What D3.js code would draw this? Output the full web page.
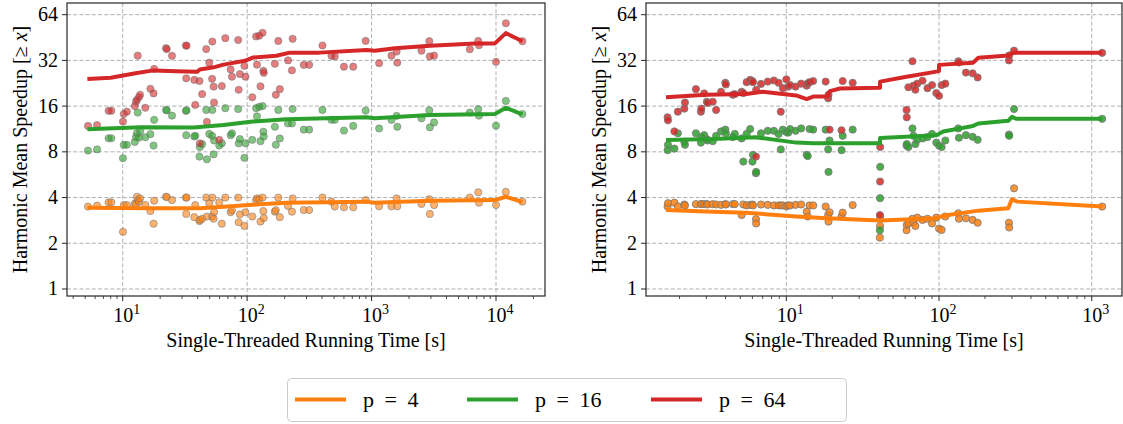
<!DOCTYPE html>
<html>
<head>
<meta charset="utf-8">
<title>Harmonic Mean Speedup</title>
<script src="https://cdn.jsdelivr.net/npm/d3@7"></script>
<style>
  body { margin: 0; background: #fff; }
</style>
</head>
<body>
<svg id="chart" width="1123" height="424" font-family="'Liberation Serif', 'Times New Roman', 'DejaVu Serif', serif"></svg>
<script>
// ---- data ----
const pLabels = ["p = 4", "p = 16", "p = 64"];
const pColors = ["#ff7f0e", "#2ca02c", "#d62728"];
const yTicks = [1, 2, 4, 8, 16, 32, 64];
const leftXTicks = [10, 100, 1000, 10000];
const rightXTicks = [10, 100, 1000];

// left panel, one row per instance: [time, p=4, p=16, p=64]
const leftPoints = [
  [5.26,3.49,8.15,11.85],[6.22,3.54,8.3,12.0],[7.7,3.72,9.83,14.9],[8.1,3.72,9.83,14.9],
  [10.05,2.38,7.26,12.65],[10.2,3.57,8.88,14.2],[10.8,3.57,8.9,14.7],[12.5,3.65,9.3,16.0],
  [12.8,3.62,10.0,17.1],[13.0,4.05,10.6,17.6],[13.2,3.85,14.5,34.4],[13.5,3.75,9.9,18.3],
  [13.8,3.95,10.9,19.0],[15.2,3.57,9.98,15.6],[16.7,3.26,10.45,20.8],[17.7,2.69,8.8,19.4],
  [17.9,3.81,13.0,28.1],[22.3,4.05,15.1,38.5],[22.6,4.03,15.0,38.0],[24.9,3.85,13.85,34.3],
  [32.2,4.0,14.9,40.1],[32.6,4.0,15.0,40.0],[32.4,3.12,10.3,24.4],[37.6,2.97,10.1,23.8],
  [38.3,3.57,10.2,16.3],[41.4,2.8,7.44,23.4],[41.7,2.85,8.6,9.1],[43.5,2.9,9.0,19.2],
  [46.9,4.0,15.1,38.0],[47.5,3.0,7.15,12.6],[49.6,3.67,10.5,30.9],[52.3,3.0,10.2,24.2],
  [52.5,4.0,15.1,42.6],[53.8,2.9,7.7,21.5],[54.2,3.2,9.5,16.9],[59.7,3.72,8.8,9.6],
  [62.6,2.69,9.1,21.7],[66.8,4.0,15.5,44.8],[73.7,3.2,10.3,27.9],[75.5,3.3,10.6,25.0],
  [84.7,4.0,15.3,43.6],[85.5,2.75,9.1,20.5],[87.5,3.1,9.7,26.0],[95,2.6,7.3,29.4],
  [97,3.2,9.1,25.0],[110,3.0,9.6,18.3],[118,3.85,15.5,46.0],[120,3.95,13.7,30.0],
  [125,3.9,15.8,46.5],[128,2.78,9.4,21.6],[133,4.0,16.0,48.6],[135,3.26,10.85,27.3],
  [136,2.93,10.1,26.5],[167,3.23,11.7,30.4],[170,3.3,8.9,19.0],[178,4.0,15.1,43.0],
  [183,2.97,9.8,20.7],[213,3.52,12.3,32.0],[229,3.23,12.3,27.5],[232,3.95,15.3,44.4],
  [285,3.31,11.2,29.9],[315,3.31,11.2,29.9],[403,4.0,15.1,40.1],[476,3.76,13.0,34.3],
  [506,3.49,13.0,34.0],[600,3.45,11.05,29.1],[712,3.45,11.85,29.1],[896,3.85,14.95,43.0],
  [1150,3.5,11.4,30.7],[1445,3.5,13.0,34.4],[1590,3.95,13.8,36.6],[1610,3.5,11.7,30.9],
  [2520,3.63,13.3,37.1],[2910,3.9,15.0,42.8],[2940,3.12,11.6,34.0],[3180,3.57,12.5,34.4],
  [6160,4.0,14.5,37.9],[7200,4.33,15.3,43.0],[7300,3.7,13.85,40.3],[10000,3.57,11.9,31.3],
  [12000,4.36,17.3,56.2],[16300,3.76,14.2,42.8]
];

// right panel, same layout
const rightPoints = [
  [1.67,3.49,8.2,13.5],[1.68,3.67,8.9,12.9],[1.85,3.7,8.4,10.9],[1.95,3.5,10.6,14.7],
  [2.15,3.6,9.3,15.4],[2.17,3.55,8.9,16.9],[2.56,3.62,10.6,20.7],[2.76,3.62,9.2,14.7],
  [2.78,3.62,10.0,15.4],[2.9,3.62,10.3,19.4],[3.02,3.62,9.7,17.1],[3.05,3.6,9.5,16.8],
  [3.3,3.62,9.4,17.1],[3.47,3.6,10.2,15.1],[3.74,3.58,10.9,19.9],[3.99,3.62,11.2,22.8],
  [4.02,3.6,10.6,22.2],[4.47,3.62,10.0,19.0],[4.6,3.62,10.5,19.2],[5.1,3.07,9.8,19.9],
  [5.23,3.6,6.9,19.5],[5.5,3.55,10.5,23.0],[5.8,3.58,11.3,23.8],[6.0,3.6,6.9,23.4],
  [6.05,3.55,7.65,23.0],[6.33,2.88,5.78,7.44],[6.35,2.7,5.9,20.5],[6.83,3.6,10.6,22.4],
  [7.56,3.58,11.0,23.2],[8.3,3.55,11.0,23.6],[8.9,3.55,10.5,22.8],[9.2,3.55,8.3,14.7],
  [9.5,3.55,11.2,21.0],[10.0,3.5,10.8,24.0],[10.3,3.55,10.7,21.5],[10.6,3.55,11.3,22.0],
  [11.5,3.58,11.0,21.5],[12.5,3.6,11.4,22.5],[13.6,3.23,7.65,21.8],[13.8,3.0,7.5,22.6],
  [14.2,3.55,11.3,23.0],[15.0,3.55,11.2,23.4],[18.1,3.49,11.2,23.2],[18.8,3.07,8.3,18.0],
  [18.9,2.78,5.9,19.0],[19.2,3.2,9.5,11.2],[23.0,3.0,8.2,11.1],[23.4,3.18,10.2,23.4],
  [27.2,3.57,11.2,22.8],[41.0,2.18,2.44,3.07],[41.1,2.6,3.96,5.1],[41.2,3.0,6.37,8.6],
  [61.3,2.44,8.8,15.1],[61.5,2.64,9.0,13.5],[63,2.7,8.6,21.3],[67,2.9,11.4,31.6],
  [68,2.75,10.2,21.8],[70,2.6,9.0,20.5],[72,2.95,9.6,22.5],[78,2.85,9.8,23.5],
  [84,2.9,10.0,21.0],[90,2.7,10.5,22.0],[96,2.95,9.2,19.5],[100,2.5,8.8,18.7],
  [104,2.45,8.6,22.0],[110,3.0,9.5,22.5],[133.6,3.15,11.4,31.6],[135,2.9,9.9,31.0],
  [150,2.92,10.3,26.6],[166,2.85,10.05,26.3],[179,2.73,9.6,24.7],[287,2.73,10.4,32.0],
  [288,2.54,10.2,34.5],[310,4.6,15.3,37.1],[1170,3.49,13.2,35.9]
];

// harmonic mean of all instances with running time >= x
const leftLineP4 = [[5.2,3.43],[16.7,3.4],[42,3.4],[64.6,3.48],[127,3.61],[207,3.7],[911,3.76],
  [1060,3.7],[2950,3.81],[9800,3.85],[12000,4.05],[16300,3.74]];
const leftLineP16 = [[5.2,11.27],[13.9,11.6],[37.2,11.55],[64.6,12.0],[111,12.65],[207,13.1],
  [911,13.5],[1060,13.3],[2950,14.0],[9800,14.2],[12000,15.6],[16300,14.1]];
const leftLineP64 = [[5.2,24.1],[8,24.6],[13,26.4],[17.7,27.5],[27,27.1],[39.5,26.9],[41.7,27.9],
  [53.8,28.8],[64.6,30.0],[96,31.8],[111,33.4],[172,34.3],[220,36],[383,36],[911,37.5],
  [1060,37.1],[1540,38.5],[2950,40],[6800,41.4],[9800,41.4],[12000,48.4],[16300,42.8]];

const rightLineP4 = [[1.63,3.31],[3.3,3.23],[5.45,3.18],[11.6,3.0],[18.4,2.92],[41.1,2.82],
  [96,2.92],[106.5,3.04],[181,3.28],[284,3.4],[300,3.9],[325,3.76],[1170,3.49]];
const rightLineP16 = [[1.63,9.58],[3.3,9.7],[6.33,9.97],[11.6,9.2],[15,9.1],[41.1,9.1],[41.1,9.85],
  [96,10.3],[106.5,10.9],[167,11.85],[181,12.3],[284,12.8],[300,13.6],[320,13.2],[1170,13.2]];
const rightLineP64 = [[1.63,18.3],[2.98,19.0],[5.45,19.2],[7.0,19.9],[11.6,18.8],[13.6,17.8],
  [15,18.5],[18.4,18.5],[19.3,20.1],[22.5,20.9],[41.1,21.1],[41.1,23.2],[61.3,25.0],[96,27.0],
  [100,27.2],[100,29.9],[167,30.9],[181,33.3],[284,34.5],[306,35.9],[1170,35.9]];

// ---- drawing ----
const svg = d3.select("#chart");
const plotTop = 3, plotBottom = 296;
const y = d3.scaleLog().domain([0.899, 76.4]).range([plotBottom, plotTop]);

function drawPanel(opt) {
  const x = d3.scaleLog().domain(opt.domain).range([opt.x0, opt.x1]);
  const g = svg.append("g");

  // grid
  g.selectAll("line.gx").data(opt.xTicks).join("line")
    .attr("x1", d => x(d)).attr("x2", d => x(d))
    .attr("y1", plotTop).attr("y2", plotBottom)
    .attr("stroke", "#b0b0b0").attr("stroke-width", 1).attr("stroke-dasharray", "4,2.2");
  g.selectAll("line.gy").data(yTicks).join("line")
    .attr("x1", opt.x0).attr("x2", opt.x1)
    .attr("y1", d => y(d)).attr("y2", d => y(d))
    .attr("stroke", "#b0b0b0").attr("stroke-width", 1).attr("stroke-dasharray", "4,2.2");

  // scatter points
  [1, 2, 3].forEach(k => {
    g.append("g").selectAll("circle").data(opt.points).join("circle")
      .attr("cx", d => x(d[0])).attr("cy", d => y(d[k])).attr("r", 3.6)
      .attr("fill", pColors[k - 1]).attr("fill-opacity", opt.alpha)
      .attr("stroke", "#7a7a7a").attr("stroke-opacity", opt.alpha).attr("stroke-width", 1);
  });

  // lines
  const line = d3.line().x(d => x(d[0])).y(d => y(d[1]));
  opt.lines.forEach((ln, i) => {
    g.append("path").datum(ln).attr("d", line)
      .attr("fill", "none").attr("stroke", pColors[i])
      .attr("stroke-width", 4).attr("stroke-linejoin", "round");
  });

  // frame
  g.append("rect").attr("x", opt.x0).attr("y", plotTop)
    .attr("width", opt.x1 - opt.x0).attr("height", plotBottom - plotTop)
    .attr("fill", "none").attr("stroke", "#262626").attr("stroke-width", 1.2);

  // minor x ticks
  const minors = [];
  const lo = Math.floor(Math.log10(opt.domain[0])), hi = Math.ceil(Math.log10(opt.domain[1]));
  for (let e = lo; e < hi; e++) {
    for (let m = 2; m < 10; m++) {
      const v = m * Math.pow(10, e);
      if (v > opt.domain[0] && v < opt.domain[1]) minors.push(v);
    }
  }
  g.selectAll("line.mx").data(minors).join("line")
    .attr("x1", d => x(d)).attr("x2", d => x(d))
    .attr("y1", plotBottom).attr("y2", plotBottom + 3)
    .attr("stroke", "#262626").attr("stroke-width", 0.8);

  // major x ticks + labels
  g.selectAll("line.tx").data(opt.xTicks).join("line")
    .attr("x1", d => x(d)).attr("x2", d => x(d))
    .attr("y1", plotBottom).attr("y2", plotBottom + 5)
    .attr("stroke", "#262626").attr("stroke-width", 1);
  const xl = g.selectAll("text.xl").data(opt.xTicks).join("text")
    .attr("x", d => x(d) + 4).attr("y", 322)
    .attr("text-anchor", "middle").attr("font-size", 20);
  xl.append("tspan").text("10");
  xl.append("tspan").attr("dy", -8).attr("font-size", 14)
    .text(d => Math.round(Math.log10(d)));

  // y ticks + labels
  g.selectAll("line.ty").data(yTicks).join("line")
    .attr("x1", opt.x0 - 5).attr("x2", opt.x0)
    .attr("y1", d => y(d)).attr("y2", d => y(d))
    .attr("stroke", "#262626").attr("stroke-width", 1);
  g.selectAll("text.yl").data(yTicks).join("text")
    .attr("x", opt.x0 - 9).attr("y", d => y(d) + 6.5)
    .attr("text-anchor", "end").attr("font-size", 20)
    .text(d => d);

  // axis titles
  g.append("text")
    .attr("x", (opt.x0 + opt.x1) / 2).attr("y", 347)
    .attr("text-anchor", "middle").attr("font-size", 20)
    .text("Single-Threaded Running Time [s]");
  const yt = g.append("text")
    .attr("transform", `translate(${opt.yLabelX},${(plotTop + plotBottom) / 2}) rotate(-90)`)
    .attr("text-anchor", "middle").attr("font-size", 20);
  yt.append("tspan").text("Harmonic Mean Speedup [\u2265 ");
  yt.append("tspan").attr("font-style", "italic").text("x");
  yt.append("tspan").text("]");
}

drawPanel({
  x0: 67, x1: 545, domain: [3.567, 24760], xTicks: leftXTicks,
  points: leftPoints, alpha: 0.6, yLabelX: 27,
  lines: [leftLineP4, leftLineP16, leftLineP64]
});
drawPanel({
  x0: 646, x1: 1122, domain: [1.206, 1578], xTicks: rightXTicks,
  points: rightPoints, alpha: 0.85, yLabelX: 606,
  lines: [rightLineP4, rightLineP16, rightLineP64]
});

// legend
const legend = svg.append("g");
legend.append("rect")
  .attr("x", 287.5).attr("y", 378.5).attr("width", 559).attr("height", 43)
  .attr("rx", 4).attr("fill", "#fff").attr("stroke", "#cccccc").attr("stroke-width", 1);
const legX = [295, 467, 651];
pLabels.forEach((lab, i) => {
  legend.append("line")
    .attr("x1", legX[i]).attr("x2", legX[i] + 51)
    .attr("y1", 399.5).attr("y2", 399.5)
    .attr("stroke", pColors[i]).attr("stroke-width", 4);
  legend.append("text")
    .attr("x", legX[i] + 68).attr("y", 407)
    .attr("font-size", 22).attr("word-spacing", 5)
    .text(lab);
});
</script>
</body>
</html>
